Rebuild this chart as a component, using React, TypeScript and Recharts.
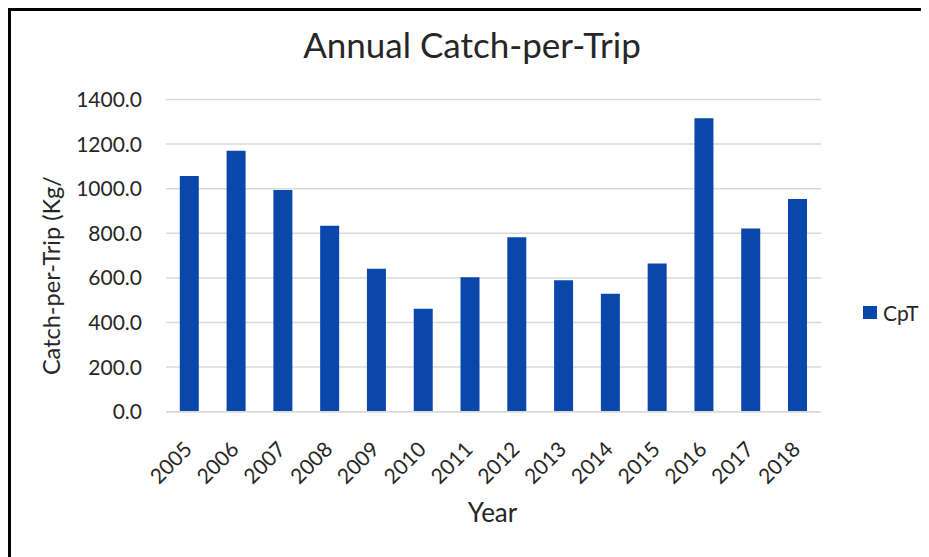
import React from "react";
import { BarChart, Bar, XAxis, YAxis, CartesianGrid, Legend } from "recharts";

const years = ["2005", "2006", "2007", "2008", "2009", "2010", "2011", "2012", "2013", "2014", "2015", "2016", "2017", "2018"];
const cpt = [1057, 1170, 994, 834, 641, 462, 603, 782, 589, 529, 665, 1316, 822, 954];
const yTicks = [0, 200, 400, 600, 800, 1000, 1200, 1400];

const data = years.map((year, i) => ({ year, CpT: cpt[i] }));

const FONT = "Lato, 'Open Sans', sans-serif";
const TEXT = "#262626";
const BAR = "#0A47AB";

const XTick = (props: any) => {
  const { x, y, payload } = props;
  return (
    <g transform={`translate(${x - 2},${y + 25})`}>
      <text
        x={0}
        y={0}
        transform="rotate(-45)"
        textAnchor="end"
        dominantBaseline="central"
        fill={TEXT}
        fontSize={21}
        fontFamily={FONT}
      >
        {payload.value}
      </text>
    </g>
  );
};

const YLabel = (props: any) => {
  const { viewBox } = props;
  const cx = viewBox.x + 23;
  const cy = viewBox.y + viewBox.height / 2 + 20;
  return (
    <text
      x={cx}
      y={cy}
      transform={`rotate(-90, ${cx}, ${cy})`}
      textAnchor="middle"
      dominantBaseline="central"
      fill={TEXT}
      fontSize={23.5}
      fontFamily={FONT}
    >
      Catch-per-Trip (Kg/
    </text>
  );
};

const XLabel = (props: any) => {
  const { viewBox } = props;
  const cx = viewBox.x + viewBox.width / 2 - 1;
  const cy = viewBox.y + 100;
  return (
    <text
      x={cx}
      y={cy}
      textAnchor="middle"
      dominantBaseline="central"
      fill={TEXT}
      fontSize={26}
      fontFamily={FONT}
    >
      Year
    </text>
  );
};

const LegendContent = () => (
  <div style={{ display: "flex", alignItems: "center", fontFamily: FONT, fontSize: 21, color: TEXT }}>
    <span style={{ display: "inline-block", width: 14, height: 13, background: BAR, marginRight: 6 }} />
    <span>CpT</span>
  </div>
);

export default function App() {
  return (
    <div style={{ position: "relative", width: 921, height: 549, overflow: "hidden", background: "#fff" }}>
      <div
        style={{
          position: "absolute",
          left: 0,
          top: 0,
          width: 960,
          height: 600,
          border: "3px solid #000",
          boxSizing: "border-box",
        }}
      />
      <div
        style={{
          position: "absolute",
          left: 0,
          width: 928,
          top: 16,
          textAlign: "center",
          fontFamily: FONT,
          fontSize: 35,
          color: TEXT,
          lineHeight: "40px",
        }}
      >
        Annual Catch-per-Trip
      </div>
      <div style={{ position: "absolute", left: 0, top: 0 }}>
        <BarChart
          width={921}
          height={549}
          data={data}
          margin={{ top: 91.5, right: 108, bottom: 35.3, left: 20 }}
          barCategoryGap="29.5%"
        >
          <CartesianGrid vertical={false} stroke="#d9d9d9" strokeWidth={1.5} />
          <XAxis
            dataKey="year"
            height={110}
            tick={<XTick />}
            tickLine={false}
            axisLine={{ stroke: "#d9d9d9", strokeWidth: 1.5 }}
            interval={0}
            label={<XLabel />}
          />
          <YAxis
            width={138}
            domain={[0, 1400]}
            ticks={yTicks}
            tickFormatter={(v: number) => v.toFixed(1)}
            tick={{ fill: TEXT, fontSize: 21, fontFamily: FONT }}
            tickLine={false}
            axisLine={false}
            tickSize={0}
            tickMargin={24}
            label={<YLabel />}
          />
          <Legend
            layout="horizontal"
            verticalAlign="middle"
            align="center"
            content={<LegendContent />}
            wrapperStyle={{ position: "absolute", left: 855, top: 292, width: 70 }}
          />
          <Bar dataKey="CpT" fill={BAR} isAnimationActive={false} />
        </BarChart>
      </div>
    </div>
  );
}
